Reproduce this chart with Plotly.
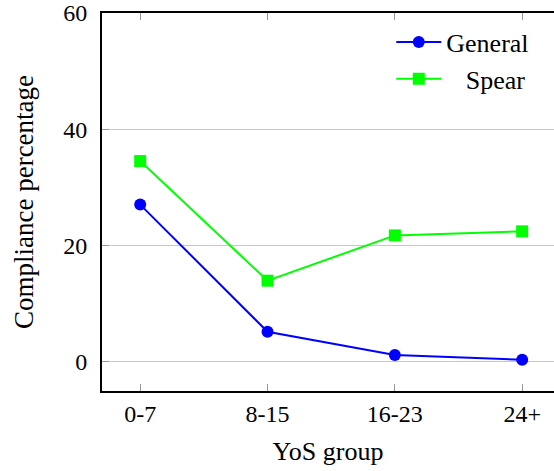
import plotly.graph_objects as go

# Years-of-service groups and compliance (%) per mailing type
groups = ["0-7", "8-15", "16-23", "24+"]
general = [27.0, 5.1, 1.1, 0.3]
spear = [34.5, 13.9, 21.7, 22.4]
y_ticks = [0, 20, 40, 60]

FONT = "Liberation Serif"

fig = go.Figure()
fig.add_trace(go.Scatter(
    x=groups, y=general, name="General", mode="lines+markers",
    line=dict(color="#0000ff", width=2),
    marker=dict(symbol="circle", size=12, color="#0000ff"),
))
fig.add_trace(go.Scatter(
    x=groups, y=spear, name="\u00a0\u00a0\u00a0Spear", mode="lines+markers",
    line=dict(color="#00ff00", width=2),
    marker=dict(symbol="square", size=12, color="#00ff00"),
))

fig.update_layout(
    width=554, height=471,
    margin=dict(l=102, r=0, t=13, b=80),
    paper_bgcolor="white", plot_bgcolor="white",
    font=dict(family=FONT, color="black", size=24),
    legend=dict(
        x=0.64, y=0.985, xanchor="left", yanchor="top",
        font=dict(family=FONT, size=26, color="black"),
        bgcolor="rgba(255,255,255,0)", itemwidth=45,
        tracegroupgap=0,
    ),
)
fig.update_xaxes(
    type="category", range=[-0.3, 3.25],
    showline=True, linecolor="black", linewidth=2, mirror="ticks",
    ticks="inside", ticklen=7, tickcolor="#999999", tickwidth=1,
    showgrid=False, zeroline=False,
    tickfont=dict(family=FONT, size=24),
    title=dict(text="YoS group", font=dict(family=FONT, size=26), standoff=16),
)
fig.update_yaxes(
    range=[-5.1, 60], tickvals=y_ticks,
    showline=True, linecolor="black", linewidth=2, mirror=False,
    ticks="inside", ticklen=7, tickcolor="#999999", tickwidth=1,
    showgrid=True, gridcolor="#c8c8c8", gridwidth=1, zeroline=False,
    tickfont=dict(family=FONT, size=24), ticklabelstandoff=8,
    title=dict(text="Compliance percentage", font=dict(family=FONT, size=27), standoff=22),
)

fig.write_html("out.html")
